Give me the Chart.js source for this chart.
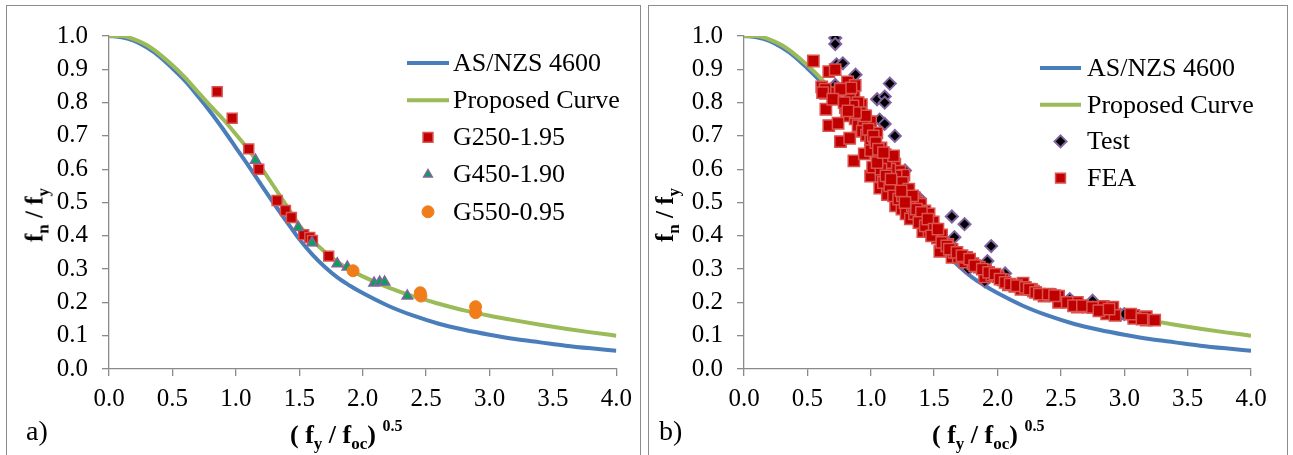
<!DOCTYPE html>
<html>
<head>
<meta charset="utf-8">
<script src="https://cdn.jsdelivr.net/npm/chart.js@4.4.0/dist/chart.umd.min.js"></script>
<style>
  body { margin: 0; background: #fff; width: 1293px; height: 455px; overflow: hidden; position: relative;
         font-family: "Liberation Serif", "Times New Roman", serif; }
  .box { position: absolute; top: 5px; height: 470px; border: 1.5px solid #8c8c8c; }
  canvas { position: absolute; }
  .ytitle { position: absolute; font-weight: bold; font-size: 25px; white-space: nowrap;
            transform: translate(-50%, -50%) rotate(-90deg); }
  .xtitle { position: absolute; font-weight: bold; font-size: 26px; white-space: nowrap; }
  .tag { position: absolute; font-size: 28px; }
  sub { font-size: 17px; vertical-align: -6px; }
  sup { font-size: 16px; vertical-align: 12px; }
</style>
</head>
<body>
<div class="box" style="left:6px;width:633px;"></div>
<div class="box" style="left:648px;width:638px;"></div>

<canvas id="chartA" width="632" height="448" style="left:8px;top:7px;width:632px;height:448px;"></canvas>
<canvas id="chartB" width="636" height="448" style="left:650px;top:7px;width:636px;height:448px;"></canvas>

<div class="ytitle" style="left:37px;top:215px;">f<sub>n</sub> / f<sub>y</sub></div>
<div class="ytitle" style="left:667px;top:215px;">f<sub>n</sub> / f<sub>y</sub></div>
<div class="xtitle" style="left:290px;top:417px;">( f<sub>y</sub> / f<sub>oc</sub>) <sup>0.5</sup></div>
<div class="xtitle" style="left:932px;top:417px;">( f<sub>y</sub> / f<sub>oc</sub>) <sup>0.5</sup></div>
<div class="tag" style="left:26px;top:415px;">a)</div>
<div class="tag" style="left:659px;top:415px;">b)</div>

<script>
// design curves
const curveX = [0, 0.1, 0.2, 0.3, 0.4, 0.5, 0.6, 0.7, 0.8, 0.9, 1.0, 1.1, 1.2, 1.3, 1.4, 1.5, 1.6, 1.7, 1.8, 1.9, 2.0,
                2.2, 2.4, 2.6, 2.8, 3.0, 3.2, 3.4, 3.6, 3.8, 4.0];
const asnzsY = [1, 0.996, 0.985, 0.965, 0.938, 0.903, 0.865, 0.82, 0.772, 0.72, 0.665, 0.61, 0.553, 0.497, 0.443, 0.39,
                0.345, 0.307, 0.275, 0.25, 0.228, 0.19, 0.16, 0.136, 0.118, 0.103, 0.09, 0.08, 0.07, 0.062, 0.055];
const proposedY = [1, 1, 0.99, 0.972, 0.945, 0.912, 0.875, 0.832, 0.79, 0.75, 0.705, 0.658, 0.605, 0.548, 0.49, 0.432,
                   0.388, 0.352, 0.322, 0.298, 0.278, 0.245, 0.218, 0.196, 0.176, 0.16, 0.146, 0.133, 0.121, 0.11, 0.10];

// panel a) test series
const g250 = [[0.853, 0.833], [0.971, 0.753], [1.102, 0.661], [1.181, 0.60], [1.325, 0.506], [1.391, 0.476],
              [1.438, 0.455], [1.535, 0.403], [1.583, 0.395], [1.604, 0.386], [1.732, 0.339]];
const g450 = [[1.155, 0.627], [1.491, 0.425], [1.601, 0.379], [1.80, 0.316], [1.879, 0.306], [2.09, 0.258],
              [2.134, 0.261], [2.173, 0.261], [2.352, 0.219]];
const g550 = [[1.924, 0.295], [2.454, 0.229], [2.459, 0.219], [2.89, 0.187], [2.89, 0.169]];

// panel b) test and FEA results
const testPts = [[0.72, 0.994], [0.72, 0.976], [0.73, 0.915], [0.78, 0.918], [0.88, 0.884], [0.72, 0.853],
                 [0.86, 0.847], [1.15, 0.857], [1.05, 0.81], [1.11, 0.818], [1.11, 0.80], [1.07, 0.749],
                 [1.11, 0.736], [1.19, 0.70], [1.27, 0.596], [1.34, 0.519], [1.38, 0.514], [1.64, 0.458],
                 [1.74, 0.435], [1.66, 0.396], [1.95, 0.369], [1.92, 0.324], [1.77, 0.30], [1.90, 0.263],
                 [2.06, 0.287], [2.57, 0.21], [2.75, 0.205], [2.97, 0.163], [3.00, 0.165], [0.83, 0.83],
                 [0.95, 0.76], [1.02, 0.70]];
const feaPts = [[0.547, 0.925], [0.613, 0.847], [0.669, 0.893], [0.719, 0.899], [0.643, 0.828], [0.719, 0.83],
                [0.758, 0.842], [0.817, 0.862], [0.80, 0.838], [0.867, 0.83], [0.877, 0.852], [0.844, 0.844],
                [0.646, 0.78], [0.80, 0.785], [0.834, 0.809], [0.926, 0.794], [0.81, 0.76], [0.669, 0.731],
                [0.742, 0.738], [0.761, 0.683], [0.834, 0.693], [0.877, 0.751], [0.90, 0.731], [0.949, 0.76],
                [0.966, 0.741], [0.999, 0.743], [0.943, 0.727], [0.933, 0.714], [0.966, 0.702], [0.867, 0.625],
                [0.949, 0.646], [0.999, 0.688], [1.048, 0.709], [1.032, 0.664], [0.999, 0.656], [1.081, 0.664],
                [1.065, 0.64], [1.13, 0.625], [1.114, 0.644], [0.999, 0.579], [1.081, 0.579], [1.015, 0.606],
                [1.114, 0.606], [1.163, 0.596], [1.19, 0.615], [1.229, 0.594], [1.262, 0.582], [1.071, 0.543],
                [1.131, 0.524], [1.196, 0.543], [1.18, 0.567], [1.229, 0.557], [1.279, 0.533], [1.295, 0.509],
                [1.345, 0.514], [1.196, 0.49], [1.246, 0.48], [1.279, 0.466], [1.328, 0.49], [1.361, 0.501],
                [1.394, 0.495], [1.312, 0.451], [1.345, 0.466], [1.394, 0.451], [1.427, 0.475], [1.46, 0.466],
                [1.47, 0.432], [1.493, 0.442], [1.526, 0.393], [1.411, 0.413], [1.46, 0.413], [1.51, 0.403],
                [1.559, 0.403], [1.575, 0.359], [1.641, 0.359], [1.608, 0.374], [1.545, 0.353], [1.641, 0.335],
                [1.658, 0.35], [1.691, 0.335], [1.74, 0.321], [1.757, 0.335], [1.806, 0.316], [1.856, 0.306],
                [1.905, 0.297], [1.898, 0.277], [1.955, 0.282], [2.004, 0.277], [2.044, 0.268], [2.086, 0.253],
                [2.136, 0.248], [2.185, 0.239], [2.202, 0.258], [2.268, 0.239], [2.284, 0.234], [2.367, 0.219],
                [2.416, 0.224], [2.482, 0.219], [2.482, 0.20], [2.63, 0.20], [2.63, 0.186], [2.713, 0.186],
                [2.795, 0.186], [2.835, 0.188], [2.861, 0.166], [2.91, 0.186], [2.927, 0.161], [3.075, 0.161],
                [3.075, 0.152], [3.174, 0.157], [3.174, 0.147], [3.24, 0.147],
                [1.10, 0.56], [1.15, 0.55], [1.18, 0.52], [1.22, 0.51], [1.25, 0.52], [1.20, 0.58], [1.15, 0.60],
                [1.12, 0.62], [1.08, 0.60], [1.05, 0.62], [1.18, 0.64], [1.25, 0.56], [1.30, 0.54], [1.33, 0.52],
                [1.36, 0.48], [1.40, 0.47], [1.38, 0.44], [1.43, 0.43], [1.45, 0.45], [1.50, 0.42], [1.48, 0.40],
                [1.53, 0.42], [1.56, 0.38], [1.60, 0.37], [1.62, 0.36], [1.68, 0.35], [1.72, 0.34], [1.78, 0.33],
                [1.82, 0.31], [1.88, 0.30], [1.93, 0.29], [1.98, 0.285], [2.02, 0.27], [2.06, 0.26], [2.10, 0.255],
                [2.15, 0.25], [2.22, 0.245], [2.25, 0.24], [2.30, 0.23], [2.33, 0.225], [2.40, 0.225], [2.45, 0.22],
                [2.55, 0.20], [2.60, 0.19], [2.67, 0.19], [2.75, 0.185], [2.80, 0.175], [2.88, 0.18], [3.05, 0.165],
                [3.14, 0.15], [0.90, 0.80], [0.92, 0.77], [0.96, 0.76], [0.98, 0.72], [1.02, 0.70], [1.04, 0.68],
                [1.06, 0.66], [1.10, 0.65], [1.12, 0.58], [1.16, 0.57], [1.24, 0.535], [1.27, 0.50], [0.86, 0.79],
                [0.88, 0.77], [0.76, 0.84], [0.64, 0.84], [0.62, 0.83], [0.70, 0.81], [0.79, 0.80], [0.82, 0.775]];

const toXY = pts => pts.map(p => ({ x: p[0], y: p[1] }));
const curve = ys => curveX.map((x, i) => ({ x: x, y: ys[i] }));

const serifFamily = 'Liberation Serif, Times New Roman, serif';

function lineSet(label, ys, color, order) {
    return {
        label: label, data: curve(ys), showLine: true, borderColor: color, backgroundColor: color,
        borderWidth: 4, pointRadius: 0, cubicInterpolationMode: 'monotone', order: order
    };
}

// legend drawn inside the plot area
const insideLegend = {
    id: 'insideLegend',
    afterDatasetsDraw(chart, args, opts) {
        const ctx = chart.ctx;
        ctx.save();
        ctx.font = opts.font;
        ctx.textBaseline = 'middle';
        chart.data.datasets.forEach((ds, i) => {
            const y = opts.top + i * opts.gap;
            if (ds.showLine) {
                ctx.strokeStyle = ds.borderColor;
                ctx.lineWidth = 4;
                ctx.beginPath();
                ctx.moveTo(opts.x0, y);
                ctx.lineTo(opts.x1, y);
                ctx.stroke();
            } else {
                ctx.fillStyle = ds.backgroundColor;
                ctx.strokeStyle = ds.borderColor;
                ctx.lineWidth = ds.borderWidth;
                Chart.helpers.drawPoint(ctx, {
                    pointStyle: ds.pointStyle, radius: ds.legendRadius || ds.pointRadius,
                    rotation: 0, borderWidth: ds.borderWidth
                }, (opts.x0 + opts.x1) / 2, y);
            }
            ctx.fillStyle = '#000';
            ctx.fillText(ds.label, opts.textX, y + 1);
        });
        ctx.restore();
    }
};

function makeOptions(yWidth, padRight, legend) {
    const axisGray = '#8a8a8a';
    const tickFont = { family: serifFamily, size: 25 };
    return {
        responsive: false,
        animation: false,
        layout: { padding: { top: 17, right: padRight, left: 0, bottom: 0 } },
        plugins: { legend: { display: false }, tooltip: { enabled: false }, insideLegend: legend },
        scales: {
            x: {
                type: 'linear', min: 0, max: 4,
                afterFit: s => { s.height = 86; },
                border: { color: axisGray, width: 1.3 },
                grid: { drawOnChartArea: false, drawTicks: true, tickLength: 7, color: axisGray, lineWidth: 1.3 },
                ticks: { stepSize: 0.5, color: '#000', font: tickFont, padding: 8, maxRotation: 0,
                         callback: v => v.toFixed(1) }
            },
            y: {
                type: 'linear', min: 0, max: 1,
                afterFit: s => { s.width = yWidth; },
                border: { color: axisGray, width: 1.3 },
                grid: { drawOnChartArea: false, drawTicks: true, tickLength: 7, color: axisGray, lineWidth: 1.3 },
                ticks: { stepSize: 0.1, color: '#000', font: tickFont, padding: 14,
                         callback: v => v.toFixed(1) }
            }
        }
    };
}

const blue = '#4a7ebb';
const green = '#9bbb59';
const legendFont = '26px ' + serifFamily;

new Chart(document.getElementById('chartA'), {
    type: 'scatter',
    data: {
        datasets: [
            lineSet('AS/NZS 4600', asnzsY, blue, 6),
            lineSet('Proposed Curve', proposedY, green, 5),
            { label: 'G250-1.95', data: toXY(g250), pointStyle: 'rect', pointRadius: 7, legendRadius: 7,
              backgroundColor: '#c00000', borderColor: '#d9534f', borderWidth: 1.5, order: 3 },
            { label: 'G450-1.90', data: toXY(g450), pointStyle: 'triangle', pointRadius: 6, legendRadius: 5,
              backgroundColor: '#00a651', borderColor: '#8064a2', borderWidth: 1.5, order: 2 },
            { label: 'G550-0.95', data: toXY(g550), pointStyle: 'circle', pointRadius: 6, legendRadius: 6,
              backgroundColor: '#f07d1a', borderColor: '#f07d1a', borderWidth: 1, order: 1 }
        ]
    },
    options: makeOptions(101, 23, { x0: 399, x1: 441, textX: 445, top: 56, gap: 37.2, font: legendFont }),
    plugins: [insideLegend]
});

new Chart(document.getElementById('chartB'), {
    type: 'scatter',
    data: {
        datasets: [
            lineSet('AS/NZS 4600', asnzsY, blue, 4),
            lineSet('Proposed Curve', proposedY, green, 3),
            { label: 'Test', data: toXY(testPts), pointStyle: 'rectRot', pointRadius: 6, legendRadius: 6,
              backgroundColor: '#000', borderColor: '#8064a2', borderWidth: 2, order: 2 },
            { label: 'FEA', data: toXY(feaPts), pointStyle: 'rect', pointRadius: 8, legendRadius: 7,
              backgroundColor: '#c00000', borderColor: '#d9534f', borderWidth: 1.5, order: 1 }
        ]
    },
    options: makeOptions(94, 35, { x0: 390, x1: 431, textX: 437, top: 61, gap: 36.7, font: legendFont }),
    plugins: [insideLegend]
});
</script>
</body>
</html>
